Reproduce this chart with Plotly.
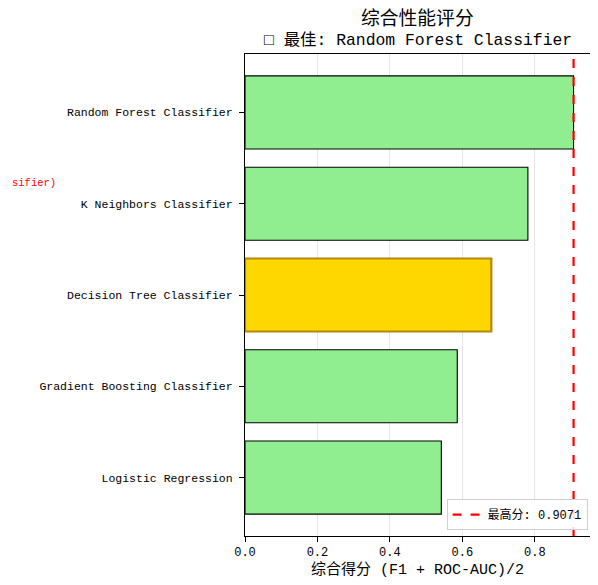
import plotly.graph_objects as go

# Data (top to bottom as shown)
models = ["Random Forest Classifier", "K Neighbors Classifier", "Decision Tree Classifier",
          "Gradient Boosting Classifier", "Logistic Regression"]
scores = [0.9071, 0.781, 0.680, 0.586, 0.542]
highlight = "Decision Tree Classifier"
best_model = models[scores.index(max(scores))]
best_score = max(scores)

title_line1 = "综合性能评分"
title_line2 = "□ 最佳: " + best_model
xlabel = "综合得分 (F1 + ROC-AUC)/2"
legend_label = f"最高分: {best_score:.4f}"
clipped_text = "sifier)"

FONT = "Liberation Mono, Noto Sans CJK SC, sans-serif"

# page offset from default body margin
OFF = 8
W, H = 598 - OFF, 585 - OFF
L, T, R, B = 245 - OFF, 54 - OFF, 8, 49
PH = H - T - B
PW = W - L - R


def py(page_y):
    """paper y from page pixel y"""
    return 1 + (T - (page_y - OFF)) / PH


def px(page_x):
    return ((page_x - OFF) - L) / PW


colors = ["#FFD700" if m == highlight else "#90EE90" for m in models]
edge_colors = ["#B8860B" if m == highlight else "black" for m in models]
edge_widths = [2.2 if m == highlight else 1.1 for m in models]

fig = go.Figure()
fig.add_trace(go.Bar(
    y=models, x=scores, orientation="h", width=0.8,
    marker=dict(color=colors, line=dict(color=edge_colors, width=edge_widths)),
    showlegend=False, hoverinfo="skip",
))

fig.add_shape(type="line", xref="x", yref="paper", x0=best_score, x1=best_score, y0=0, y1=1,
              line=dict(color="red", width=2.2, dash="dash"), layer="above",
              showlegend=True, name=legend_label)

n = len(models)
fig.update_layout(
    width=W, height=H,
    margin=dict(l=L, r=R, t=T, b=B),
    plot_bgcolor="white", paper_bgcolor="white",
    font=dict(family=FONT, size=12, color="black"),
    xaxis=dict(range=[0, best_score * 1.05], tick0=0, dtick=0.2, tickformat=".1f",
               showgrid=True, gridcolor="#e6e6e6", gridwidth=1,
               showline=True, linecolor="black", linewidth=1.1, mirror=True,
               ticks="outside", ticklen=5, tickcolor="black", zeroline=False,
               tickfont=dict(size=12, family=FONT),
               title=dict(text=xlabel, font=dict(size=15, family=FONT), standoff=4)),
    yaxis=dict(range=[n - 1 + 0.64, -0.64], showgrid=False,
               showline=True, linecolor="black", linewidth=1.1, mirror=True,
               ticks="outside", ticklen=5, tickcolor="black", zeroline=False,
               ticklabelstandoff=4,
               tickfont=dict(size=11.5, family=FONT)),
    legend=dict(x=0.993, y=0.012, xanchor="right", yanchor="bottom",
                bgcolor="rgba(255,255,255,0.85)", bordercolor="#d0d0d0", borderwidth=1,
                font=dict(size=12, family=FONT), itemwidth=30),
    bargap=0.2,
)

# Title lines
fig.add_annotation(text=title_line1, xref="paper", yref="paper", x=0.5, y=py(19),
                   xanchor="center", yanchor="middle", showarrow=False,
                   font=dict(size=18.8, family=FONT, color="black"))
fig.add_annotation(text=title_line2, xref="paper", yref="paper", x=0.5, y=py(40),
                   xanchor="center", yanchor="middle", showarrow=False,
                   font=dict(size=16.4, family=FONT, color="black"))

fig.add_annotation(text=clipped_text, xref="paper", yref="paper",
                   x=px(58), y=py(183), xanchor="right", yanchor="middle",
                   showarrow=False, font=dict(color="red", size=10.5, family=FONT))

fig.write_html("out.html")
